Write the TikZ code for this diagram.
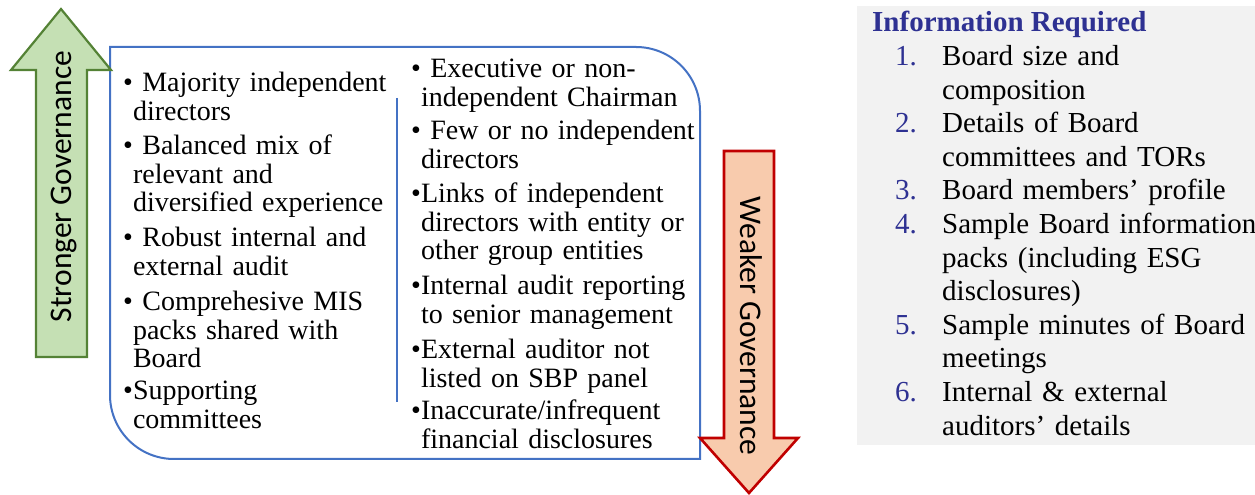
\documentclass[tikz,border=0pt]{standalone}
\usepackage{fontspec}
\setmainfont{Liberation Serif}
\newfontfamily\arrowfont{Carlito}
\definecolor{boxblue}{HTML}{4472C4}
\definecolor{upfill}{HTML}{C5E0B4}
\definecolor{upline}{HTML}{548235}
\definecolor{downfill}{HTML}{F8CBAD}
\definecolor{downline}{HTML}{C00000}
\definecolor{panelgray}{HTML}{F2F2F2}
\definecolor{infoblue}{RGB}{46,49,146}
\newcommand\bitem[1]{\setbox0=\hbox{•}\hangindent=\wd0 \hangafter=1 \noindent\copy0\relax{\let\\\newline #1}\par}
\tikzset{
  itm/.style={anchor=base west, inner sep=0pt, text width=#1,
    font=\fontsize{28}{28.5}\selectfont},
  itm/.default=275pt,
  infoitm/.style={anchor=base west, inner sep=0pt, align=left, text width=320pt,
    font=\fontsize{29}{33.6}\selectfont},
  infonum/.style={anchor=base west, inner sep=0pt, text=infoblue,
    font=\fontsize{29}{33.6}\selectfont},
  arrowlabel/.style={anchor=base, inner sep=0pt,
    font=\arrowfont\fontsize{31.5}{36}\selectfont},
  mainbox/.style={draw=boxblue, line width=2pt},
}
\begin{document}
\begin{tikzpicture}[x=1pt,y=1pt]
\useasboundingbox (0,0) rectangle (1255,495);
% info panel
\fill[panelgray] (857,50) rectangle (1255,489);
% main box
\draw[mainbox] (110,448) -- (636,448) arc[start angle=90,end angle=0,radius=64pt]
  -- (700,36) -- (174,36) arc[start angle=270,end angle=180,radius=64pt] -- cycle;
\coordinate (divtop) at (397,397);
\coordinate (divbot) at (397,93);
\draw[boxblue, line width=2pt] (divtop) -- (divbot);
% arrows
\draw[fill=upfill, draw=upline, line width=2.2pt, line join=miter]
  (36,138) -- (87,138) -- (87,425) -- (111,425) -- (61,486) -- (11,425) -- (36,425) -- cycle;
\node[arrowlabel, rotate=90] (strong) at (71,308.5) {Stronger Governance};
\draw[fill=downfill, draw=downline, line width=2.6pt, line join=miter]
  (724,344) -- (774,344) -- (774,57) -- (798,57) -- (749,2) -- (700,57) -- (724,57) -- cycle;
\node[arrowlabel, rotate=-90] (weak) at (740,169) {Weaker Governance};
% left column
\node[itm] (l1) at (123,403) {\bitem{ Majority independent\\directors}};
\node[itm] (l2) at (123,340) {\bitem{ Balanced mix of\\relevant and\\diversified experience}};
\node[itm] (l3) at (123,248) {\bitem{ Robust internal and\\external audit}};
\node[itm] (l4) at (123,184) {\bitem{ Comprehesive MIS\\packs shared with\\Board}};
\node[itm] (l5) at (123,95) {\bitem{Supporting\\committees}};
% right column
\node[itm=300pt] (r1) at (411,417) {\bitem{ Executive or non-\\independent Chairman}};
\node[itm=300pt] (r2) at (411,355) {\bitem{ Few or no independent\\directors}};
\node[itm=300pt] (r3) at (411,292) {\bitem{Links of independent\\directors with entity or\\other group entities}};
\node[itm=300pt] (r4) at (411,200) {\bitem{Internal audit reporting\\to senior management}};
\node[itm=300pt] (r5) at (411,136) {\bitem{External auditor not\\listed on SBP panel}};
\node[itm=300pt] (r6) at (411,75) {\bitem{Inaccurate/infrequent\\financial disclosures}};
% info list
\node[anchor=base west, inner sep=0pt, text=infoblue, font=\fontsize{29}{33.6}\selectfont\bfseries] (title) at (872,463) {Information Required};
\node[infonum] (n1) at (895,429.5) {1.};
\node[infoitm] (i1) at (942,429.5) {Board size and\\composition};
\node[infonum] (n2) at (895,362.3) {2.};
\node[infoitm] (i2) at (942,362.3) {Details of Board\\committees and TORs};
\node[infonum] (n3) at (895,295.1) {3.};
\node[infoitm] (i3) at (942,295.1) {Board members’ profile};
\node[infonum] (n4) at (895,261.5) {4.};
\node[infoitm] (i4) at (942,261.5) {Sample Board information\\packs (including ESG\\disclosures)};
\node[infonum] (n5) at (895,160.7) {5.};
\node[infoitm] (i5) at (942,160.7) {Sample minutes of Board\\meetings};
\node[infonum] (n6) at (895,93.5) {6.};
\node[infoitm] (i6) at (942,93.5) {Internal \& external\\auditors’ details};
\end{tikzpicture}
\end{document}
